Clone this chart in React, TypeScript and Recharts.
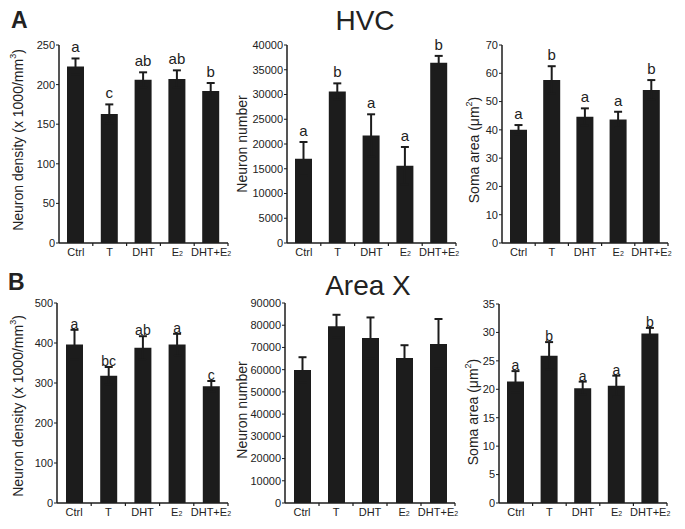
import { Bar, BarChart, ErrorBar, LabelList, XAxis, YAxis } from "recharts";

const INK = "#1c1c1c";
const TEXT = "#222";

const GROUPS = ["Ctrl", "T", "DHT", "E2", "DHT+E2"];

// HVC (panel A)
const hvcDensity = [223, 163, 206, 207, 192];
const hvcDensityErr = [10, 12, 9.5, 11, 10];
const hvcDensityLetters = ["a", "c", "ab", "ab", "b"];
const hvcDensityTicks = [0, 50, 100, 150, 200, 250];

const hvcNumber = [17000, 30600, 21700, 15600, 36400];
const hvcNumberErr = [3400, 1650, 4300, 3800, 1400];
const hvcNumberLetters = ["a", "b", "a", "a", "b"];
const hvcNumberTicks = [0, 5000, 10000, 15000, 20000, 25000, 30000, 35000, 40000];

const hvcSoma = [40, 57.6, 44.6, 43.7, 54.1];
const hvcSomaErr = [1.7, 4.9, 3.0, 2.7, 3.5];
const hvcSomaLetters = ["a", "b", "a", "a", "b"];
const hvcSomaTicks = [0, 10, 20, 30, 40, 50, 60, 70];

// Area X (panel B)
const axDensity = [396, 318, 388, 396, 292];
const axDensityErr = [37, 22, 29, 27, 13];
const axDensityLetters = ["a", "bc", "ab", "a", "c"];
const axDensityTicks = [0, 100, 200, 300, 400, 500];

const axNumber = [59900, 79500, 74200, 65200, 71600];
const axNumberErr = [5700, 5200, 9300, 5800, 11200];
const axNumberTicks = [0, 10000, 20000, 30000, 40000, 50000, 60000, 70000, 80000, 90000];

const axSoma = [21.35, 25.9, 20.2, 20.6, 29.8];
const axSomaErr = [1.85, 2.4, 1.15, 1.8, 1.0];
const axSomaLetters = ["a", "b", "a", "a", "b"];
const axSomaTicks = [0, 5, 10, 15, 20, 25, 30, 35];

const YW = 60;
const MT = 30;
const MR = 6;
const XH = 26;

function groupLabel(g: string) {
  if (g.endsWith("E2")) {
    return (
      <>
        {g.slice(0, -1)}
        <tspan fontSize={7}>2</tspan>
      </>
    );
  }
  return g;
}

function CatTick(props: any) {
  const { x, y, payload, index, half, last } = props;
  return (
    <g>
      {index > 0 && <line x1={x - half} x2={x - half} y1={y} y2={y + 3} stroke={INK} strokeWidth={1.2} />}
      {index === last && <line x1={x + half} x2={x + half} y1={y} y2={y + 3} stroke={INK} strokeWidth={1.2} />}
      <text x={x} y={y + 13} textAnchor="middle" fontSize={11} fill={TEXT}>
        {groupLabel(String(payload.value))}
      </text>
    </g>
  );
}

type PanelProps = {
  x0: number;
  x1: number;
  yTop: number;
  yBot: number;
  values: number[];
  errs: number[];
  letters?: string[];
  ticks: number[];
  yLabel: React.ReactNode;
  labelX: number;
  labelY: number;
  letterGap: number;
  letterSize: number;
};

function Panel(p: PanelProps) {
  const chartLeft = p.x0 - YW;
  const chartTop = p.yTop - MT;
  const width = p.x1 - p.x0 + YW + MR;
  const height = p.yBot - p.yTop + MT + XH;
  const half = (p.x1 - p.x0) / 10;
  const data = GROUPS.map((g, i) => ({
    group: g,
    value: p.values[i],
    err: p.errs[i],
    letter: p.letters ? p.letters[i] : "",
  }));
  const lx = p.labelX - chartLeft;
  const ly = p.labelY - chartTop;

  return (
    <div style={{ position: "absolute", left: chartLeft, top: chartTop }}>
      <BarChart
        width={width}
        height={height}
        data={data}
        margin={{ top: MT, right: MR, left: 0, bottom: 0 }}
        barSize={17}
      >
        <XAxis
          dataKey="group"
          type="category"
          height={XH}
          interval={0}
          axisLine={{ stroke: INK, strokeWidth: 1.5 }}
          tickLine={false}
          tickSize={0}
          tickMargin={0}
          tick={(t: any) => <CatTick {...t} half={half} last={GROUPS.length - 1} />}
        />
        <YAxis
          type="number"
          domain={[0, p.ticks[p.ticks.length - 1]]}
          ticks={p.ticks}
          interval={0}
          width={YW}
          axisLine={{ stroke: INK, strokeWidth: 1.5 }}
          tickLine={{ stroke: INK }}
          tickSize={3}
          tickMargin={1}
          tick={{ fontSize: 11, fill: TEXT }}
          label={() => (
            <text
              x={lx}
              y={ly}
              transform={`rotate(-90, ${lx}, ${ly})`}
              textAnchor="middle"
              dominantBaseline="central"
              fontSize={14}
              fill={TEXT}
            >
              {p.yLabel}
            </text>
          )}
        />
        <Bar dataKey="value" fill={INK} isAnimationActive={false}>
          <ErrorBar dataKey="err" width={4} strokeWidth={2} stroke={INK} isAnimationActive={false} />
          {p.letters && (
            <LabelList
              dataKey="letter"
              content={(l: any) => {
                const d = data[l.index];
                const bx = Number(l.x);
                const by = Number(l.y);
                const bw = Number(l.width);
                const bh = Number(l.height);
                const ty = by - d.err * (bh / d.value) - p.letterGap;
                return (
                  <text x={bx + bw / 2} y={ty} textAnchor="middle" fontSize={p.letterSize} fill={TEXT}>
                    {l.value}
                  </text>
                );
              }}
            />
          )}
        </Bar>
      </BarChart>
    </div>
  );
}

const densityLabel = (
  <>
    Neuron density (x 1000/mm
    <tspan dy={-5} fontSize={9}>3</tspan>
    <tspan dy={5}>)</tspan>
  </>
);
const somaLabel = (
  <>
    Soma area (μm
    <tspan dy={-5} fontSize={9}>2</tspan>
    <tspan dy={5}>)</tspan>
  </>
);

export default function App() {
  return (
    <div
      style={{
        position: "absolute",
        left: 0,
        top: 0,
        width: 685,
        height: 529,
        background: "#fff",
        fontFamily: '"Liberation Sans", Arial, Helvetica, sans-serif',
        overflow: "hidden",
      }}
    >
      <svg width={685} height={529} style={{ position: "absolute", left: 0, top: 0 }}>
        <text x={11} y={28} fontSize={23} fontWeight="bold" fill={TEXT}>A</text>
        <text x={8} y={290} fontSize={23} fontWeight="bold" fill={TEXT}>B</text>
        <text x={365} y={30} fontSize={28} textAnchor="middle" fill={TEXT}>HVC</text>
        <text x={368} y={295} fontSize={28} textAnchor="middle" fill={TEXT}>Area X</text>
      </svg>

      <Panel x0={59} x1={228} yTop={45} yBot={243} values={hvcDensity} errs={hvcDensityErr}
        letters={hvcDensityLetters} ticks={hvcDensityTicks} yLabel={densityLabel}
        labelX={18} labelY={140} letterGap={6} letterSize={15} />
      <Panel x0={287} x1={456} yTop={45} yBot={243} values={hvcNumber} errs={hvcNumberErr}
        letters={hvcNumberLetters} ticks={hvcNumberTicks} yLabel="Neuron number"
        labelX={242} labelY={144} letterGap={6} letterSize={15} />
      <Panel x0={502} x1={668} yTop={45} yBot={243} values={hvcSoma} errs={hvcSomaErr}
        letters={hvcSomaLetters} ticks={hvcSomaTicks} yLabel={somaLabel}
        labelX={474} labelY={150} letterGap={6} letterSize={15} />

      <Panel x0={57} x1={228} yTop={303} yBot={503} values={axDensity} errs={axDensityErr}
        letters={axDensityLetters} ticks={axDensityTicks} yLabel={densityLabel}
        labelX={18} labelY={406} letterGap={1} letterSize={14} />
      <Panel x0={285} x1={455} yTop={303} yBot={503} values={axNumber} errs={axNumberErr}
        ticks={axNumberTicks} yLabel="Neuron number"
        labelX={242} labelY={410} letterGap={1} letterSize={14} />
      <Panel x0={499} x1={667} yTop={304} yBot={503} values={axSoma} errs={axSomaErr}
        letters={axSomaLetters} ticks={axSomaTicks} yLabel={somaLabel}
        labelX={473} labelY={412} letterGap={1} letterSize={14} />
    </div>
  );
}
